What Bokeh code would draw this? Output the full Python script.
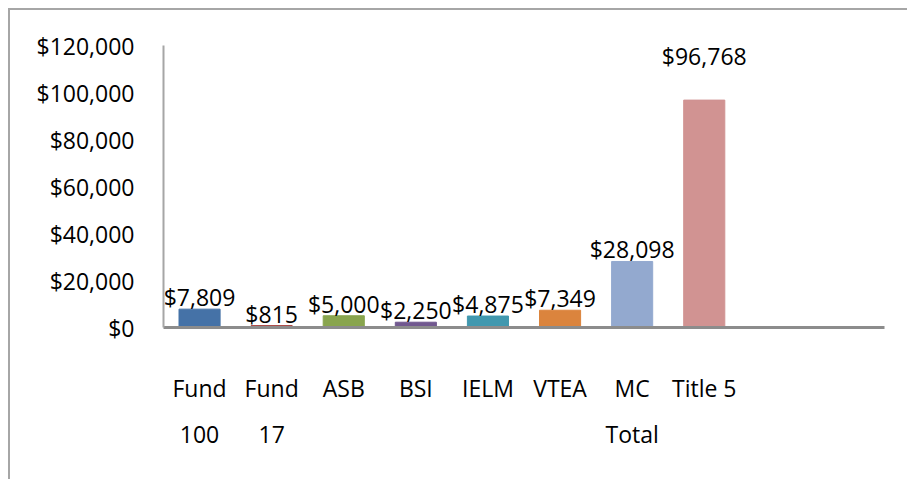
from bokeh.plotting import figure
from bokeh.models import ColumnDataSource, FactorRange, Range1d, SingleIntervalTicker, NumeralTickFormatter
from bokeh.core.properties import value
from bokeh.embed import file_html
from bokeh.resources import INLINE

categories = ["Fund\n100", "Fund\n17", "ASB", "BSI", "IELM", "VTEA", "MC\nTotal", "Title 5"]
amounts = [7809, 815, 5000, 2250, 4875, 7349, 28098, 96768]
colors = ["#4572A7", "#AA4643", "#89A54E", "#71588F", "#4198AF", "#DB843D", "#93A9CF", "#D19392"]
pad_factors = [" ", "  "]
y_max = 120000
y_step = 20000

FONT = "Open Sans"
FS = "23px"

labels = ["${:,}".format(v) for v in amounts]
offsets = [4] * (len(amounts) - 1) + [-28]

src = ColumnDataSource(dict(x=categories, top=amounts, color=colors, label=labels, off=offsets))

p = figure(x_range=FactorRange(factors=categories + pad_factors, range_padding=0),
           y_range=Range1d(0, y_max),
           width=899, height=471, output_backend="svg", toolbar_location=None,
           min_border_left=153, min_border_right=25, min_border_top=35, min_border_bottom=154)
p.styles = {"margin-left": "8px", "margin-top": "8px",
            "border-left": "2px solid #a6a6a6", "border-top": "2px solid #a6a6a6"}

p.vbar(x="x", top="top", width=0.57, color="color", source=src)
p.text(x="x", y="top", text="label", source=src, y_offset="off",
       text_align="center", text_baseline="bottom",
       text_font=value(FONT), text_font_size=FS, text_color="black")

p.grid.visible = False
p.outline_line_color = None

p.yaxis.ticker = SingleIntervalTicker(interval=y_step)
p.yaxis.formatter = NumeralTickFormatter(format="$0,0")
p.yaxis.axis_line_color = "#a6a6a6"
p.yaxis.axis_line_width = 2
p.yaxis.major_tick_line_color = None
p.yaxis.minor_tick_line_color = None
p.yaxis.major_label_standoff = 23
p.yaxis.major_label_text_font = FONT
p.yaxis.major_label_text_font_size = FS
p.yaxis.major_label_text_color = "black"

p.xaxis.axis_line_color = "#8c8c8c"
p.xaxis.axis_line_width = 3
p.xaxis.major_tick_line_color = None
p.xaxis.minor_tick_line_color = None
p.xaxis.major_label_standoff = 38
p.xaxis.major_label_text_font = FONT
p.xaxis.major_label_text_font_size = FS
p.xaxis.major_label_text_color = "black"
p.xaxis.major_label_text_line_height = 1.44

open("out.html", "w").write(file_html(p, INLINE))
